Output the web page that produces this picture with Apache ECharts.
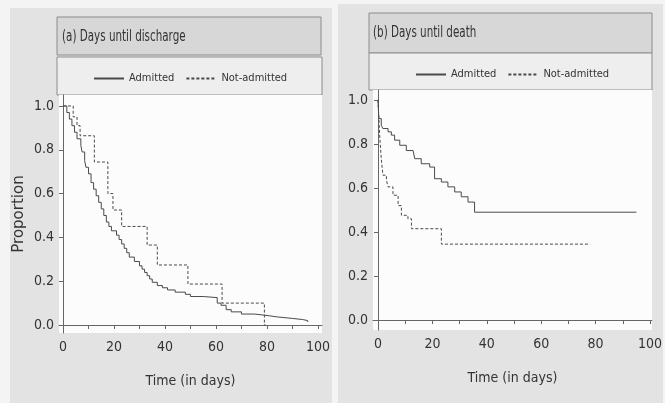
<!DOCTYPE html>
<html>
<head>
<meta charset="utf-8">
<script src="https://cdn.jsdelivr.net/npm/echarts@6/dist/echarts.min.js"></script>
<style>
  html, body { margin: 0; padding: 0; background: #f4f4f4; }
  #chart { width: 665px; height: 403px; }
</style>
</head>
<body>
<div id="chart"></div>
<script>
// Kaplan-Meier step values: [day, proportion]
const dischargeAdmitted = [
  [0, 1.0], [1.5, 0.97], [2.5, 0.94], [3.5, 0.91], [4.5, 0.88], [5.5, 0.85],
  [7, 0.82], [7.5, 0.79], [8.5, 0.75], [9, 0.72], [10, 0.69], [11, 0.65],
  [12, 0.62], [13, 0.59], [14, 0.56], [15, 0.53], [16, 0.50], [17, 0.47],
  [18, 0.45], [19, 0.43], [21, 0.41], [22, 0.39], [23, 0.37], [24, 0.35],
  [25, 0.33], [26, 0.31], [28, 0.29], [30, 0.27], [31, 0.255], [32, 0.24],
  [33, 0.225], [34, 0.21], [35, 0.195], [37, 0.18], [39, 0.17], [41, 0.16],
  [44, 0.15], [48, 0.14], [50, 0.13], [55, 0.125], [60.5, 0.10], [62, 0.09],
  [64, 0.07], [66, 0.06], [70, 0.05], [75, 0.045], [79, 0.037], [84, 0.03],
  [90, 0.025], [94, 0.02], [96, 0.014]
];
const dischargeNotAdmitted = [
  [0, 1.0], [4, 0.95], [5.5, 0.91], [6.7, 0.864], [12.3, 0.744], [17.6, 0.60],
  [19.6, 0.525], [23, 0.45], [33, 0.365], [37, 0.274], [49, 0.187],
  [62.4, 0.10], [79, 0.0], [79.5, 0.0]
];
const deathAdmitted = [
  [0, 1.0], [0.3, 0.915], [1.2, 0.885], [1.8, 0.87], [3.7, 0.855], [4.9, 0.84],
  [6.1, 0.817], [8, 0.794], [10.4, 0.77], [12.9, 0.764], [13.5, 0.733],
  [15.9, 0.71], [19, 0.695], [20.8, 0.642], [23.3, 0.627], [25.7, 0.605],
  [28.2, 0.582], [30.6, 0.56], [33.1, 0.536], [35.5, 0.49], [95, 0.49]
];
const deathNotAdmitted = [
  [0, 1.0], [0.6, 0.84], [1.2, 0.733], [1.8, 0.658], [3.1, 0.635], [3.7, 0.605],
  [5.5, 0.567], [7.4, 0.52], [8.6, 0.476], [11, 0.46], [12.3, 0.415],
  [23.3, 0.345], [78, 0.345]
];
const xTicks = [0, 10, 20, 30, 40, 50, 60, 70, 80, 90, 100];
const xLabels = [0, 20, 40, 60, 80, 100];
const yLabels = [0, 0.2, 0.4, 0.6, 0.8, 1.0];
const panelTitles = ['(a) Days until discharge', '(b) Days until death'];
const seriesNames = ['Admitted', 'Not-admitted'];

const FONT = "'DejaVu Sans Condensed', 'Liberation Sans Narrow', 'Liberation Sans', sans-serif";
const LINE = '#4a4a4a';

const chart = echarts.init(document.getElementById('chart'));

function xAxisFor(idx, min, max) {
  return {
    gridIndex: idx, type: 'value', min: min, max: max,
    name: 'Time (in days)', nameLocation: 'middle', nameGap: 41,
    nameTextStyle: { fontFamily: FONT, fontSize: 14, color: '#333' },
    axisLine: { lineStyle: { color: '#666' } },
    axisTick: { customValues: xTicks, length: 4, lineStyle: { color: '#666' } },
    axisLabel: { customValues: xLabels, fontFamily: FONT, fontSize: 14, color: '#333', margin: 7 },
    splitLine: { show: false }
  };
}
function yAxisFor(idx, min, max, withName) {
  return {
    gridIndex: idx, type: 'value', min: min, max: max,
    name: withName ? 'Proportion' : '', nameLocation: 'middle', nameGap: 32,
    nameTextStyle: { fontFamily: "'DejaVu Sans', sans-serif", fontSize: 15, color: '#333' },
    axisLine: { show: true, lineStyle: { color: '#666' } },
    axisTick: { show: true, customValues: yLabels, length: 4, lineStyle: { color: '#666' } },
    axisLabel: {
      customValues: yLabels, fontFamily: FONT, fontSize: 14, color: '#333', margin: 5,
      formatter: v => v.toFixed(1)
    },
    splitLine: { show: false }
  };
}
function kmSeries(name, data, idx, dashed) {
  return {
    name: name, type: 'line', step: 'end', data: data,
    xAxisIndex: idx, yAxisIndex: idx, symbol: 'none', silent: true,
    lineStyle: { color: LINE, width: 1, type: dashed ? [3, 2] : 'solid' },
    itemStyle: { color: LINE }
  };
}
function legendFor(left, top) {
  return {
    data: seriesNames, left: left, top: top, itemWidth: 30, itemHeight: 10, itemGap: 11,
    selectedMode: false, z: 20,
    itemStyle: { opacity: 0 },
    textStyle: { fontFamily: FONT, fontSize: 11, color: '#333' }
  };
}
function box(x, y, w, h, fill, stroke) {
  return { type: 'rect', shape: { x: x, y: y, width: w, height: h }, z: -10,
    style: { fill: fill, stroke: stroke || null, lineWidth: 1 } };
}
function title(text, x, y) {
  return { type: 'text', x: x, y: y, scaleX: 0.72, z: 10,
    style: { text: text, x: 0, y: 0, verticalAlign: 'middle', font: '16px ' + FONT, fill: '#333' } };
}

const option = {
  backgroundColor: '#f4f4f4',
  animation: false,
  graphic: [
    box(10, 8, 322, 395, '#e3e3e3'),
    box(338, 4, 325, 399, '#e3e3e3'),
    box(57, 17, 264, 38, '#d7d7d7', '#8c8c8c'),
    box(57, 57, 265, 38, '#eeeeee', '#8c8c8c'),
    box(59, 95, 263, 238, '#fcfcfc'),
    box(369, 13, 283, 40, '#d7d7d7', '#8c8c8c'),
    box(369, 53, 283, 37, '#eeeeee', '#8c8c8c'),
    box(373, 90, 279, 240, '#fcfcfc'),
    title(panelTitles[0], 62, 37),
    title(panelTitles[1], 373, 33)
  ],
  legend: [legendFor(88, 68), legendFor(410, 64)],
  grid: [
    { left: 59, right: 343, top: 95, bottom: 70 },
    { left: 373, right: 13, top: 90, bottom: 73 }
  ],
  xAxis: [xAxisFor(0, -1.57, 101.6), xAxisFor(1, -1.84, 100.7)],
  yAxis: [yAxisFor(0, -0.0365, 1.05, true), yAxisFor(1, -0.045, 1.045, false)],
  series: [
    kmSeries(seriesNames[0], dischargeAdmitted, 0, false),
    kmSeries(seriesNames[1], dischargeNotAdmitted, 0, true),
    kmSeries(seriesNames[0], deathAdmitted, 1, false),
    kmSeries(seriesNames[1], deathNotAdmitted, 1, true)
  ]
};
chart.setOption(option);
</script>
</body>
</html>
